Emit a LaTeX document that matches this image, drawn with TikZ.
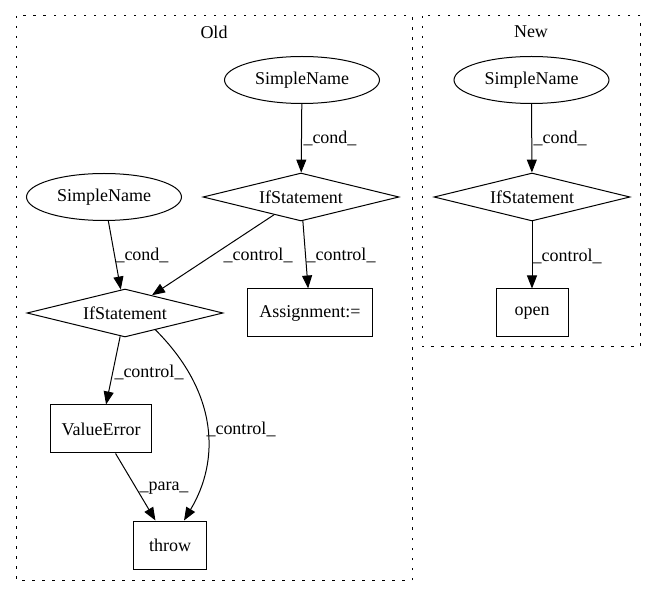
\documentclass[tikz,border=0pt]{standalone}
\usepackage{fontspec}
\setmainfont{Liberation Serif}
\usetikzlibrary{shapes.geometric,arrows.meta,calc}
\tikzset{
  every node/.style={font=\fontsize{18}{22}\selectfont},
  ell/.style={draw, ellipse, line width=1pt, minimum width=155pt, minimum height=47pt, inner sep=0pt},
  dia/.style={draw, diamond, line width=1pt, minimum width=196pt, minimum height=48pt, inner sep=0pt, shape aspect=4},
  box/.style={draw, rectangle, line width=1pt, minimum height=48pt, inner sep=0pt},
  conn/.style={line width=1pt, -{Triangle[length=13pt,width=10pt]}},
  lbl/.style={inner sep=0pt},
  frame/.style={line width=1pt, dash pattern=on 2.5pt off 7.5pt}
}
\begin{document}
\begin{tikzpicture}[x=1pt,y=-1pt]
\useasboundingbox (0,0) rectangle (657,596);
% clusters
\draw[frame] (16,16) rectangle (412,580);
\draw[frame] (422,16) rectangle (640,347);
\node (oldlbl) at (214,32) {Old};
\node (newlbl) at (531,32) {New};
% Old nodes
\node[ell] (sn1) at (302,80) {SimpleName};
\node[dia] (if1) at (301,197) {IfStatement};
\node[ell] (sn2) at (104,197) {SimpleName};
\node[dia] (if2) at (125,313) {IfStatement};
\node[box, minimum width=125pt] (asg) at (310,313) {Assignment:=};
\node[box, minimum width=101pt] (ve) at (101,429) {ValueError};
\node[box, minimum width=73pt] (thr) at (170,545) {throw};
% New nodes
\node[ell] (sn3) at (531.5,80) {SimpleName};
\node[dia] (if3) at (532,197) {IfStatement};
\node[box, minimum width=72pt] (opn) at (532,313) {open};
% Old edges
\draw[conn] (sn1) -- (if1);
\draw[conn] (if1) -- (if2);
\draw[conn] (if1) -- (asg);
\draw[conn] (sn2) -- (if2);
\draw[conn] (if2) -- (ve);
\draw[conn] (ve) -- (thr);
\draw[conn] (if2.-29) .. controls +(63,63) and +(36,-60) .. ($(thr.north)+(14,0)$);
% New edges
\draw[conn] (sn3) -- (if3);
\draw[conn] (if3) -- (opn);
% labels
\node[lbl] (l1) at (330,138) {\_cond\_};
\node[lbl] (l2) at (142,255) {\_cond\_};
\node[lbl] (l3) at (258,255) {\_control\_};
\node[lbl] (l4) at (341,255) {\_control\_};
\node[lbl] (l5) at (149,372) {\_control\_};
\node[lbl] (l6) at (241,429) {\_control\_};
\node[lbl] (l7) at (164,488) {\_para\_};
\node[lbl] (l8) at (560,138) {\_cond\_};
\node[lbl] (l9) at (567,256) {\_control\_};
\end{tikzpicture}
\end{document}
